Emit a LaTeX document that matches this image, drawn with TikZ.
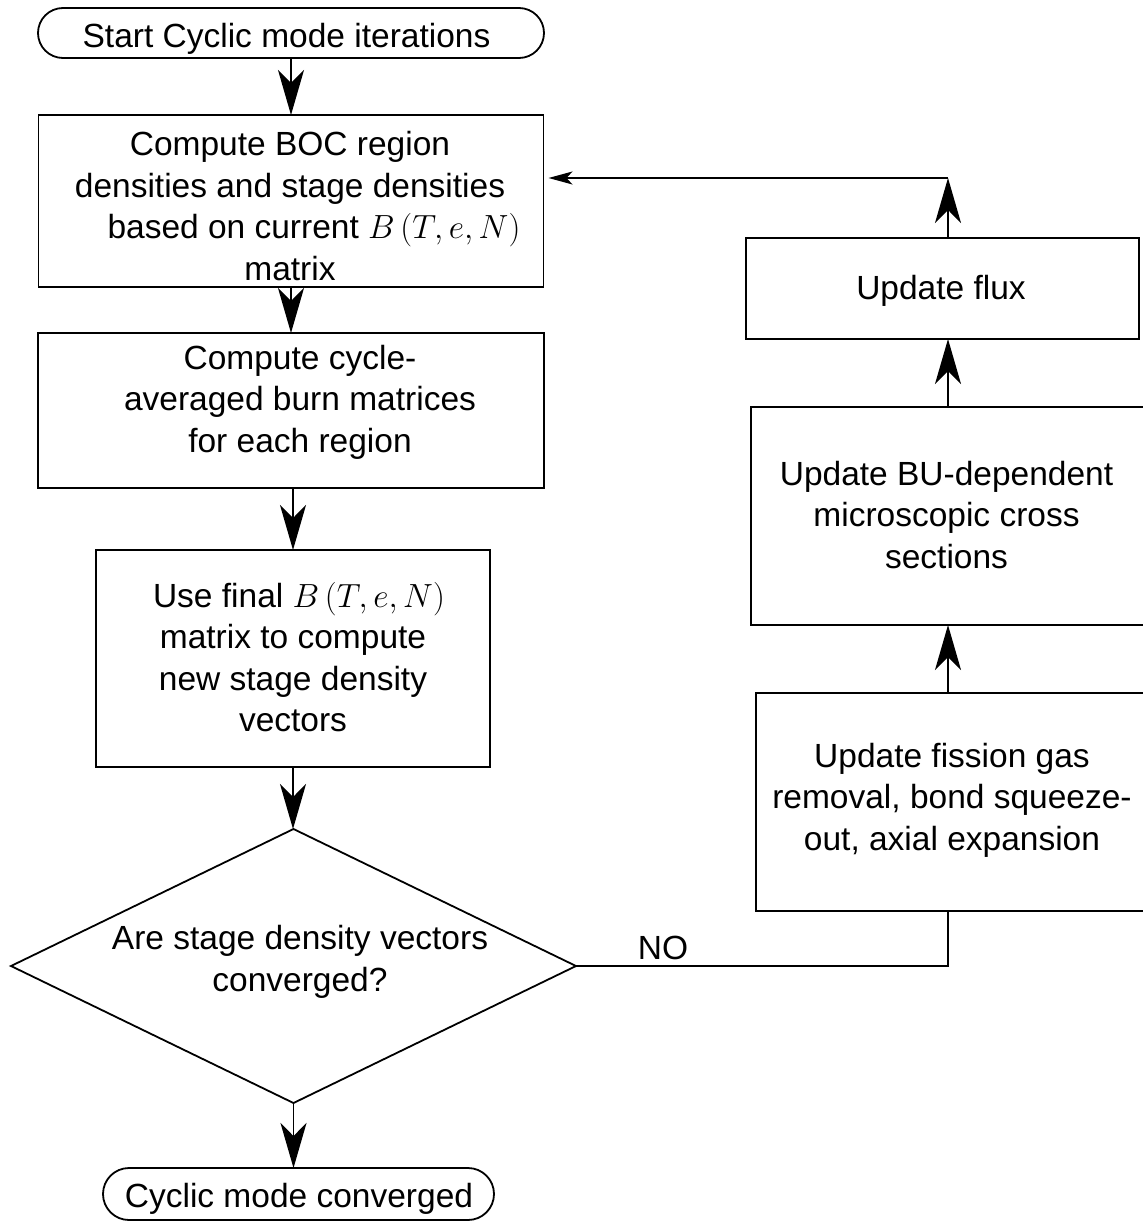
\RequirePackage{fix-cm}
\documentclass[tikz,border=0pt]{standalone}
\usepackage[no-math]{fontspec}
\setmainfont{Liberation Sans}
\usetikzlibrary{arrows.meta,shapes.geometric}

\begin{document}
\begin{tikzpicture}[x=1pt,y=-1pt,
  frame/.style={draw, line width=1.8pt, inner sep=0pt, outer sep=0pt},
  txt/.style={font=\fontsize{33.5pt}{41.5pt}\selectfont, align=center, inner sep=0pt,
              execute at begin node=\strut, execute at end node=\strut},
  bigarr/.style={line width=1.8pt, -{Stealth[length=45pt,width=26pt,inset=13pt]}},
  smallarr/.style={line width=1.8pt, -{Stealth[length=24pt,width=13pt,inset=6pt]}},
  link/.style={line width=1.8pt}]

\useasboundingbox (0,0) rectangle (1143,1226);
\fill[white] (0,0) rectangle (1143,1226);

% main column
\node[frame, rounded corners=25pt, minimum width=506pt, minimum height=50pt] (start) at (291,33) {};
\node[txt] (startt) at (286.5,38.7) {Start Cyclic mode iterations};

\node[frame, minimum width=505pt, minimum height=172pt] (b1) at (291,201) {};
\node[txt] (b1t) at (290,212.3) {Compute BOC region\\densities and stage densities\\\hbox to48pt{}based on current $B\left(T,e,N\right)$\\matrix};

\node[frame, minimum width=506pt, minimum height=155pt] (b2) at (291,410.5) {};
\node[txt] (b2t) at (300,405) {Compute cycle-\\averaged burn matrices\\for each region};

\node[frame, minimum width=394pt, minimum height=217pt] (b3) at (293,658.5) {};
\node[txt] (b3t) at (293,663.2) {\hbox to12pt{}Use final $B\left(T,e,N\right)$\\matrix to compute\\new stage density\\vectors};

\node[frame, diamond, minimum width=565pt, minimum height=274pt] (dia) at (293.5,966) {};
\node[txt] (diat) at (300,964.5) {Are stage density vectors\\converged?};

\node[frame, rounded corners=26pt, minimum width=391pt, minimum height=52pt] (end) at (298.5,1194) {};
\node[txt] (endt) at (299,1199) {Cyclic mode converged};

% feedback column
\node[frame, minimum width=393pt, minimum height=101pt] (flux) at (942.5,288.5) {};
\node[txt] (fluxt) at (941,290.7) {Update flux};

\node[frame, minimum width=395pt, minimum height=218pt] (b6) at (948.5,516) {};
\node[txt] (b6t) at (946.5,520.7) {Update BU-dependent\\microscopic cross\\sections};

\node[frame, minimum width=390pt, minimum height=218pt] (b7) at (951,802) {};
\node[txt] (b7t) at (952,802.7) {Update fission gas\\removal, bond squeeze-\\out, axial expansion};

\node[txt] (no) at (663,950.7) {NO};

\coordinate (fb) at (948,178);

% connectors
\draw[bigarr] (start.south) -- (b1.north);
\draw[bigarr] (b1.south) -- (b2.north);
\draw[bigarr] (b3.north |- b2.south) -- (b3.north);
\draw[bigarr] (b3.south) -- (b3.south |- dia.north);
\draw[bigarr] (dia.south) -- (dia.south |- end.north);
\draw[link] (dia.east) -| (fb |- b7.south);
\draw[bigarr] (fb |- b7.north) -- (fb |- b6.south);
\draw[bigarr] (fb |- b6.north) -- (fb |- flux.south);
\draw[bigarr] (fb |- flux.north) -- (fb);
\draw[smallarr, shorten >=5pt] (fb) -- (fb -| b1.east);
\end{tikzpicture}
\end{document}
